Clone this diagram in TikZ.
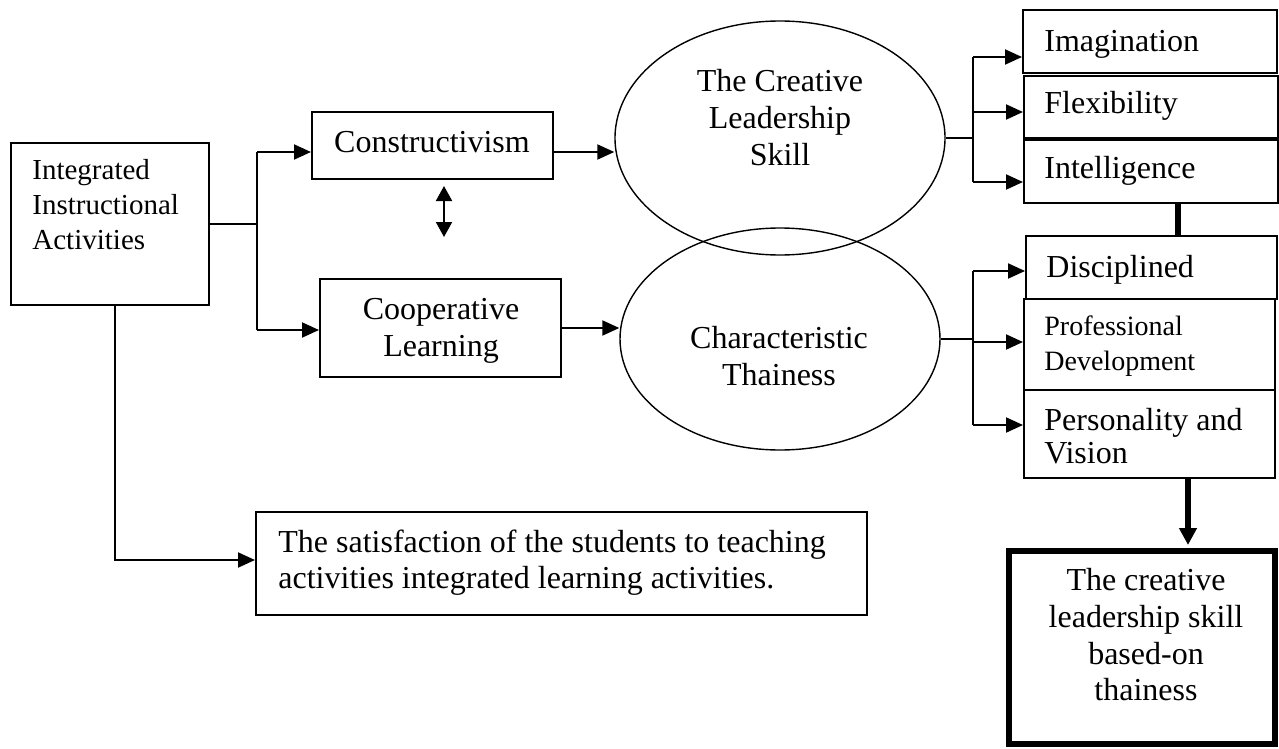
\documentclass[tikz,border=0pt]{standalone}
\usepackage{fontspec}
\setmainfont{Liberation Serif}
\usetikzlibrary{arrows.meta,shapes.geometric}
% multi-line text whose baseline is that of the first line
\newcommand{\linesL}[1]{\begin{tabular}[t]{@{}l@{}}#1\end{tabular}}
\newcommand{\linesC}[1]{\begin{tabular}[t]{@{}c@{}}#1\end{tabular}}
\begin{document}
\begin{tikzpicture}[x=0.5pt,y=-0.5pt,
  box/.style={draw, line width=1pt, rectangle, inner sep=0pt},
  oval/.style={draw, line width=0.7pt, ellipse, inner sep=0pt},
  txt/.style={inner sep=0pt, font=\fontsize{16pt}{18.4pt}\selectfont},
  smalltxt/.style={inner sep=0pt, font=\fontsize{14.5pt}{17.5pt}\selectfont},
  link/.style={line width=1pt},
  arr/.style={line width=1pt, -{Triangle[length=8.5pt,width=7.5pt]}},
  dblarr/.style={line width=1pt, {Triangle[length=7.5pt,width=8pt]}-{Triangle[length=7.5pt,width=8pt]}},
  heavy/.style={line width=3pt},
  heavyarr/.style={line width=3pt, -{Triangle[length=8.5pt,width=8.5pt]}, shorten >=1.5pt},
]
\useasboundingbox (0,0) rectangle (1279,749);

% ---------- boxes and ovals ----------
\node[box, minimum width=99pt,    minimum height=81pt]   (ia)   at (110,224) {};
\node[box, minimum width=120.5pt, minimum height=33.5pt] (con)  at (432.5,145.5) {};
\node[box, minimum width=120.5pt, minimum height=49pt]   (coop) at (440.5,328) {};
\node[box, minimum width=305.5pt, minimum height=51.5pt] (sat)  at (561.5,563.5) {};
\node[oval, minimum width=165pt, minimum height=117pt]   (e1)   at (780,138) {};
\node[oval, minimum width=160pt, minimum height=111pt]   (e2)   at (780,339) {};
\node[box, minimum width=127pt,   minimum height=31.5pt] (ima)  at (1150,41.5) {};
\node[box, minimum width=127pt,   minimum height=31pt]   (fle)  at (1151,107) {};
\node[box, minimum width=127pt,   minimum height=31.5pt] (int)  at (1151,171.5) {};
\node[box, minimum width=125.5pt, minimum height=31.5pt] (dis)  at (1151.5,267.5) {};
\node[box, minimum width=125.5pt, minimum height=45.5pt] (pro)  at (1149.5,344.5) {};
\node[box, minimum width=125.5pt, minimum height=44pt]   (per)  at (1149.5,434) {};
\node[box, line width=3pt, minimum width=133.25pt, minimum height=96.25pt] (res) at (1141.75,647.25) {};

% ---------- texts ----------
\node[smalltxt, anchor=base west] (ia-t) at (32,179) {\linesL{Integrated\\Instructional\\Activities}};
\node[txt, anchor=base] (con-t)  at (432,153) {Constructivism};
\node[txt, anchor=base] (coop-t) at (441,319.5) {\linesC{Cooperative\\Learning}};
\node[txt, anchor=base] (e1-t)   at (780,92) {\linesC{The Creative\\Leadership\\Skill}};
\node[txt, anchor=base] (e2-t)   at (779,348.5) {\linesC{Characteristic\\Thainess}};
\node[txt, anchor=base west] (ima-t) at (1044,52) {Imagination};
\node[txt, anchor=base west] (fle-t) at (1044,113.5) {Flexibility};
\node[txt, anchor=base west] (int-t) at (1044,178.5) {Intelligence};
\node[txt, anchor=base west] (dis-t) at (1046,277) {Disciplined};
\node[inner sep=0pt, font=\fontsize{14pt}{17.5pt}\selectfont, anchor=base west] (pro-t) at (1044,335.5) {\linesL{Professional\\Development}};
\node[inner sep=0pt, font=\fontsize{16pt}{16.5pt}\selectfont, anchor=base west] (per-t) at (1044,430.5) {\linesL{Personality and\\Vision}};
\node[txt, anchor=base] (res-t) at (1146,590.5) {\linesC{The creative\\leadership skill\\based-on\\thainess}};
\node[txt, anchor=base west] (sat-t) at (278,552) {\linesL{The satisfaction of the students to teaching\\activities integrated learning activities.}};

% ---------- connectors from the left box ----------
\coordinate (forkTop) at (257,152);
\coordinate (forkBot) at (257,330);
\draw[link] (ia.east) -- (ia.east -| forkTop);
\draw[link] (forkTop) -- (forkBot);
\draw[arr] (forkTop) -- (forkTop -| con.west);
\draw[arr] (forkBot) -- (forkBot -| coop.west);
\draw[arr] (con.east |- forkTop) -- (e1.west |- forkTop);
\draw[arr] (coop.east) -- (coop.east -| e2.west);

\coordinate (da1) at (444,186);
\coordinate (da2) at (444,237);
\draw[dblarr] (da1) -- (da2);

\coordinate (elbow) at (115,560);
\draw[arr] (ia.south -| elbow) -- (elbow) -- (elbow -| sat.west);

% ---------- fan-out to the skill boxes ----------
\coordinate (busA1) at (973,57);
\coordinate (busA2) at (973,112);
\coordinate (busA3) at (973,182);
\draw[link] (e1.east) -- (e1.east -| busA1);
\draw[link] (busA1) -- (busA3);
\draw[arr] (busA1) -- (busA1 -| ima.west);
\draw[arr] (busA2) -- (busA2 -| fle.west);
\draw[arr] (busA3) -- (busA3 -| int.west);

\coordinate (busB1) at (973,271);
\coordinate (busB2) at (973,342);
\coordinate (busB3) at (973,425);
\draw[link] (e2.east) -- (e2.east -| busB1);
\draw[link] (busB1) -- (busB3);
\draw[arr] (busB1) -- (busB1 -| dis.west);
\draw[arr] (busB2) -- (busB2 -| pro.west);
\draw[arr] (busB3) -- (busB3 -| per.west);

% ---------- heavy links on the right ----------
\coordinate (k1) at (1178,0);
\coordinate (k2) at (1188,0);
\draw[heavy] (int.south -| k1) -- (dis.north -| k1);
\draw[heavyarr] (per.south -| k2) -- (res.north -| k2);
\end{tikzpicture}
\end{document}
